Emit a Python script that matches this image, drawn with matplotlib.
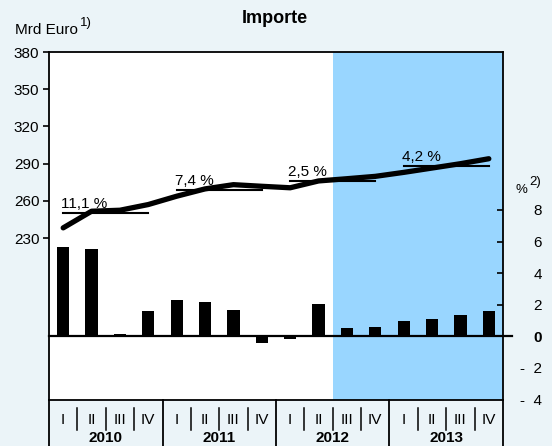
import matplotlib
matplotlib.use("Agg")
import matplotlib.pyplot as plt
import matplotlib.transforms as mtransforms
import numpy as np

plt.rcParams['font.family'] = ['Liberation Sans', 'DejaVu Sans']

# ---- data ----
years = ["2010", "2011", "2012", "2013"]
quarters = ["I", "II", "III", "IV"]
imports_level = [238.3, 251.7, 252.5, 257.1,
                 263.8, 269.7, 273.1, 271.8,
                 270.6, 276.1, 277.9, 279.8,
                 283.0, 286.5, 290.0, 294.0]          # Mrd Euro (left axis)
annual_avg = [250.2, 269.1, 276.1, 288.3]            # annual averages
annual_growth = ["11,1 %", "7,4 %", "2,5 %", "4,2 %"]
qoq_change = [5.67, 5.52, 0.15, 1.62,
              2.30, 2.17, 1.66, -0.40,
              -0.19, 2.04, 0.52, 0.59,
              0.97, 1.09, 1.35, 1.62]                 # % (right axis)
forecast_start = 10                                   # index of first shaded quarter
left_ticks = [230, 260, 290, 320, 350, 380]
right_ticks = [-4, -2, 0, 2, 4, 6, 8]
right_ticklabels = ["-  4", "-  2", "0", "2", "4", "6", "8"]

BG = "#EBF4F8"
SHADE = "#99D6FF"
FS = 11

W, H = 552, 446
fig = plt.figure(figsize=(W / 100, H / 100), dpi=100, facecolor=BG)
L, R, T, B = 49, 503, 52, 399.5
rect = [L / W, 1 - B / H, (R - L) / W, (B - T) / H]

ax2 = fig.add_axes(rect)                 # right axis (bars), behind
ax = fig.add_axes(rect, sharex=ax2)      # left axis (line), on top
ax.set_zorder(3)
ax.patch.set_visible(False)
ax2.set_zorder(2)
ax2.set_facecolor("white")

n = len(qoq_change)
x = np.arange(n)

# right axis: bars
ax2.set_xlim(-0.5, n - 0.5)
ax2.set_ylim(-4, 18)
ax2.axvspan(forecast_start - 0.5, n - 0.5, color=SHADE, zorder=0, lw=0)
ax2.bar(x, qoq_change, width=0.43, color="black", zorder=3)
ax2.plot([-0.5, n - 0.5 + 0.32], [0, 0], color="black", lw=1.6, clip_on=False, zorder=4)

ax2.yaxis.tick_right()
ax2.set_yticks(right_ticks)
ax2.set_yticklabels(right_ticklabels)
ax2.tick_params(axis="y", which="both", direction="in", length=4, width=1.2,
                labelsize=FS, pad=28, right=True, left=False)
for lab in ax2.get_yticklabels():
    lab.set_horizontalalignment("right")
    if lab.get_text() == "0":
        lab.set_fontweight("bold")
for tk, v in zip(ax2.yaxis.get_major_ticks(), right_ticks):
    if v < 0:
        tk.tick2line.set_visible(False)
ax2.tick_params(axis="x", bottom=False, labelbottom=False)
for s in ax2.spines.values():
    s.set_visible(False)

# left axis: line
ax.set_ylim(100, 380)
ax.plot(x, imports_level, color="black", lw=3.8, solid_capstyle="round", zorder=5)
for i, (avg, g) in enumerate(zip(annual_avg, annual_growth)):
    xs = [4 * i, 4 * i + 3]
    ax.plot(xs, [avg, avg], color="black", lw=1.5, zorder=4)
    ax.annotate(g, xy=(4 * i, avg), xytext=(-1.5, 1.5), textcoords="offset points",
                ha="left", va="bottom", fontsize=FS, zorder=6)
ax.set_yticks(left_ticks)
ax.tick_params(axis="y", direction="out", length=4, width=1.2, labelsize=FS, pad=3,
               right=False, labelright=False)
ax.tick_params(axis="x", bottom=False, labelbottom=False)
for s in ax.spines.values():
    s.set_linewidth(1.3)
    s.set_color("black")

# category table below the plot
trans = mtransforms.blended_transform_factory(ax.transData, ax.transAxes)
ph = B - T
def fy(py):
    return -(py - B) / ph
for i in range(n + 1):
    xe = i - 0.5
    if i % 4 == 0:
        ax.plot([xe, xe], [0, fy(446)], transform=trans, color="black", lw=1.3, clip_on=False)
    else:
        ax.plot([xe, xe], [fy(407.5), fy(430)], transform=trans, color="black", lw=1.1, clip_on=False)
for i in range(n):
    ax.text(i, fy(420), quarters[i % 4], transform=trans, ha="center", va="center", fontsize=FS)
for j, yr in enumerate(years):
    ax.text(4 * j + 1.5, fy(438.5), yr, transform=trans, ha="center", va="center",
            fontsize=FS, fontweight="bold")

# titles / unit labels
fig.text(274.5 / W, 1 - 22.7 / H, "Importe", ha="center", va="baseline", fontsize=13, fontweight="bold")
fig.text(15 / W, 1 - 34.5 / H, "Mrd Euro", ha="left", va="baseline", fontsize=FS)
fig.text(79.5 / W, 1 - 26 / H, "1)", ha="left", va="baseline", fontsize=9.5)
fig.text(516 / W, 1 - 193 / H, "%", ha="left", va="baseline", fontsize=9.5)
fig.text(529 / W, 1 - 185 / H, "2)", ha="left", va="baseline", fontsize=9.5)

fig.savefig("out.png", dpi=100, facecolor=BG)
